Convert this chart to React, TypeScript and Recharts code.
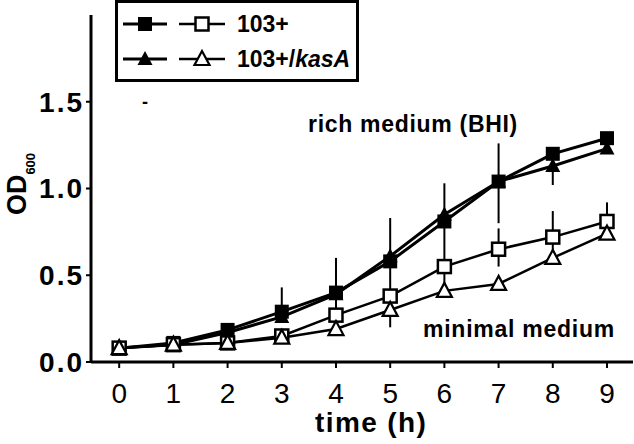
import { LineChart, Line, XAxis, YAxis, ErrorBar, Legend } from 'recharts';

// growth curves, OD600 vs time (h)
const hours = [0, 1, 2, 3, 4, 5, 6, 7, 8, 9];
const rich103 = [0.08, 0.11, 0.185, 0.29, 0.4, 0.58, 0.81, 1.04, 1.2, 1.29];
const richKasA = [0.08, 0.1, 0.17, 0.26, 0.39, 0.61, 0.85, 1.04, 1.13, 1.23];
const min103 = [0.08, 0.1, 0.11, 0.15, 0.27, 0.38, 0.55, 0.65, 0.72, 0.81];
const minKasA = [0.08, 0.1, 0.11, 0.14, 0.19, 0.3, 0.41, 0.45, 0.6, 0.74];
// [below, above]
const rich103Err = [[0, 0], [0, 0], [0, 0], [0, 0.14], [0.13, 0.2], [0.2, 0.25], [0.26, 0.22], [0.24, 0.22], [0.18, 0], [0, 0]];
const min103Err = [[0, 0], [0, 0], [0, 0], [0, 0], [0, 0], [0.18, 0], [0.15, 0], [0.1, 0.12], [0.08, 0.15], [0, 0.11]];
const yTicks = [0, 0.5, 1, 1.5];

const FONT = "'Liberation Sans', Arial, Helvetica, sans-serif";

const data = hours.map((t, i) => ({
  t,
  rich103: rich103[i],
  richKasA: richKasA[i],
  min103: min103[i],
  minKasA: minKasA[i],
  rich103Err: rich103Err[i],
  min103Err: min103Err[i],
}));

type Shape = 'fsq' | 'osq' | 'ftri' | 'otri';

function Marker({ cx, cy, shape }: { cx?: number; cy?: number; shape: Shape }) {
  if (cx == null || cy == null) return null;
  if (shape === 'fsq') {
    return <rect x={cx - 7} y={cy - 7} width={14} height={14} fill="#000" />;
  }
  if (shape === 'osq') {
    return <rect x={cx - 6.5} y={cy - 6.5} width={13} height={13} fill="#fff" stroke="#000" strokeWidth={2.5} />;
  }
  const pts = `${cx},${cy - 8} ${cx - 7.5},${cy + 6} ${cx + 7.5},${cy + 6}`;
  if (shape === 'ftri') {
    return <polygon points={pts} fill="#000" />;
  }
  return <polygon points={pts} fill="#fff" stroke="#000" strokeWidth={2.2} strokeLinejoin="miter" />;
}

const dotFor = (shape: Shape) => (props: any) => (
  <Marker key={`${shape}-${props.index}`} cx={props.cx} cy={props.cy} shape={shape} />
);

const legendRows: { filled: Shape; open: Shape; label: string; italic: string }[] = [
  { filled: 'fsq', open: 'osq', label: '103+', italic: '' },
  { filled: 'ftri', open: 'otri', label: '103+/', italic: 'kasA' },
];

function LegendBox() {
  return (
    <svg width={245} height={83} style={{ display: 'block' }}>
      <rect x={1.5} y={1.5} width={241} height={79} fill="#fff" stroke="#000" strokeWidth={3} />
      {legendRows.map((r, i) => {
        const y = i === 0 ? 24 : 59;
        return (
          <g key={r.label}>
            <line x1={8} x2={52} y1={y} y2={y} stroke="#000" strokeWidth={3} />
            <Marker cx={30} cy={y} shape={r.filled} />
            <line x1={64} x2={110} y1={y} y2={y} stroke="#000" strokeWidth={2.5} />
            <Marker cx={87} cy={y} shape={r.open} />
            <text x={122} y={y + 8} fontFamily={FONT} fontWeight="bold" fontSize={23} fill="#000">
              {r.label}
              {r.italic && <tspan fontStyle="italic">{r.italic}</tspan>}
            </text>
          </g>
        );
      })}
    </svg>
  );
}

export default function App() {
  return (
    <div style={{ position: 'absolute', left: 0, top: 0, width: 634, height: 444, background: '#fff' }}>
      <LineChart width={634} height={444} data={data} margin={{ top: 15, right: 1, bottom: 0, left: 11 }}>
        <XAxis
          dataKey="t"
          type="number"
          domain={[-0.52, 9.48]}
          ticks={hours}
          interval={0}
          height={82}
          tickSize={6}
          tickMargin={15}
          axisLine={{ stroke: '#000', strokeWidth: 3 }}
          tickLine={{ stroke: '#000', strokeWidth: 2 }}
          tick={{ fill: '#000', fontSize: 28, fontFamily: FONT }}
        />
        <YAxis
          type="number"
          domain={[0, 2]}
          ticks={yTicks}
          width={80}
          tickSize={5}
          tickMargin={2}
          tickFormatter={(v: number) => v.toFixed(1)}
          axisLine={{ stroke: '#000', strokeWidth: 3 }}
          tickLine={{ stroke: '#000', strokeWidth: 2 }}
          tick={{ fill: '#000', fontSize: 28, fontWeight: 'bold', fontFamily: FONT, letterSpacing: 2 }}
        />
        <Legend
          layout="horizontal"
          verticalAlign="middle"
          align="center"
          wrapperStyle={{ left: 115, top: 0, width: 245, height: 83 }}
          content={() => <LegendBox />}
        />
        <Line
          dataKey="richKasA"
          type="linear"
          stroke="#000"
          strokeWidth={3}
          dot={dotFor('ftri')}
          isAnimationActive={false}
        />
        <Line
          dataKey="rich103"
          type="linear"
          stroke="#000"
          strokeWidth={3}
          dot={dotFor('fsq')}
          isAnimationActive={false}
        >
          <ErrorBar dataKey="rich103Err" direction="y" width={0} stroke="#000" strokeWidth={2} />
        </Line>
        <Line
          dataKey="min103"
          type="linear"
          stroke="#000"
          strokeWidth={2.5}
          dot={dotFor('osq')}
          isAnimationActive={false}
        >
          <ErrorBar dataKey="min103Err" direction="y" width={0} stroke="#000" strokeWidth={2} />
        </Line>
        <Line
          dataKey="minKasA"
          type="linear"
          stroke="#000"
          strokeWidth={2.5}
          dot={dotFor('otri')}
          isAnimationActive={false}
        />
      </LineChart>
      <svg
        width={634}
        height={444}
        style={{ position: 'absolute', left: 0, top: 0, pointerEvents: 'none' }}
        fontFamily={FONT}
        fontWeight="bold"
        fill="#000"
      >
        <text x={26} y={184} transform="rotate(-90, 26, 184)" textAnchor="middle" fontSize={27}>
          OD
          <tspan fontSize={13} dy={9}>600</tspan>
        </text>
        <text x={315} y={432} fontSize={28} letterSpacing={1.4}>time (h)</text>
        <text x={308} y={132} fontSize={23} letterSpacing={0.7}>rich medium (BHI)</text>
        <text x={423} y={337} fontSize={23} letterSpacing={0.75}>minimal medium</text>
        <text x={145} y={108} fontSize={18} textAnchor="middle">-</text>
      </svg>
    </div>
  );
}
